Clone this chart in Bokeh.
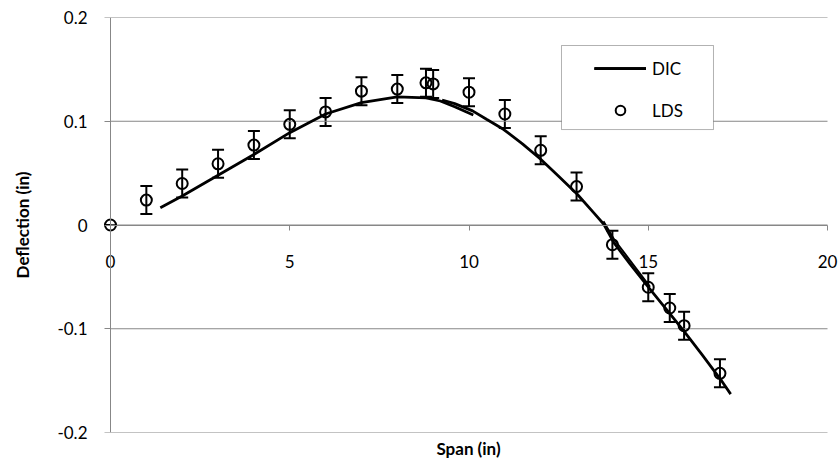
from bokeh.plotting import figure
from bokeh.models import (ColumnDataSource, Whisker, TeeHead, FixedTicker, Legend,
                          LegendItem, BoxAnnotation, Title, Range1d, LinearAxis)
from bokeh.embed import file_html
from bokeh.resources import INLINE

# ---- data ----
lds_x = [0, 1.0, 2.0, 3.0, 4.0, 5.0, 6.0, 7.0, 8.0, 8.8, 9.0, 10.0, 11.0, 12.0, 13.0,
         14.0, 15.0, 15.6, 16.0, 17.0]
lds_y = [0, 0.024, 0.040, 0.059, 0.077, 0.097, 0.109, 0.129, 0.131, 0.137, 0.136, 0.128,
         0.107, 0.072, 0.037, -0.019, -0.060, -0.080, -0.097, -0.143]
lds_err = [0, 0.0135, 0.0135, 0.0135, 0.0135, 0.0135, 0.0135, 0.0135, 0.0135, 0.0135,
           0.0135, 0.0135, 0.0135, 0.0135, 0.0135, 0.0135, 0.0135, 0.0135, 0.0135, 0.0135]

dic1_x = [1.39, 2.0, 3.0, 4.0, 5.0, 6.0, 7.0, 8.0, 8.8, 9.2, 9.6, 10.12]
dic1_y = [0.0167, 0.028, 0.048, 0.068, 0.089, 0.107, 0.118, 0.1234, 0.1225, 0.1195, 0.114, 0.106]

dic2_x = [9.25, 9.6, 10.1, 10.5, 10.97, 11.5, 12.0, 12.5, 13.02, 13.5, 13.76, 14.04, 14.5,
          15.02, 15.5, 15.99, 16.5, 17.02, 17.3]
dic2_y = [0.1205, 0.117, 0.110, 0.1017, 0.092, 0.078, 0.0634, 0.047, 0.0296, 0.011, 0.0007,
          -0.017, -0.038, -0.0605, -0.081, -0.102, -0.125, -0.149, -0.163]

dic3_x = [13.75, 14.04, 14.5, 15.05]
dic3_y = [0.0035, -0.0135, -0.0345, -0.0595]

x_ticks = [0, 5, 10, 15, 20]
x_tick_labels = ["0", "5", "10", "15", "20"]
y_ticks = [-0.2, -0.1, 0, 0.1, 0.2]
y_tick_labels = ["-0.2", "-0.1", "0", "0.1", "0.2"]

FONT = "Lato"
GRID = "#878787"

# axis extents of the plotting area
X_MIN, X_MAX = 0, 20
Y_MIN, Y_MAX = -0.2, 0.2
# the frame is a bit wider than the axis extents so that end labels/markers are not clipped
PX_PER_X = 717 / (X_MAX - X_MIN)
x_lo = X_MIN - 14 / PX_PER_X
x_hi = X_MAX + 13 / PX_PER_X

p = figure(width=840, height=466, output_backend="svg", toolbar_location=None,
           x_range=Range1d(x_lo, x_hi), y_range=Range1d(Y_MIN, Y_MAX),
           min_border_left=96, min_border_right=0, min_border_top=17, min_border_bottom=34)
p.outline_line_color = None
p.background_fill_color = "white"
p.border_fill_color = "white"

# grids (horizontal, spanning the axis extent only)
p.xgrid.visible = False
p.ygrid.visible = False
p.segment(x0=[X_MIN] * len(y_ticks), x1=[X_MAX] * len(y_ticks), y0=y_ticks, y1=y_ticks,
          line_color=GRID, line_width=1)

# x axis crossing at y = 0
xa = p.xaxis[0]
xa.fixed_location = 0
xa.bounds = (X_MIN, X_MAX)
xa.ticker = FixedTicker(ticks=x_ticks)
xa.major_label_overrides = {t: l for t, l in zip(x_ticks, x_tick_labels)}
xa.axis_line_color = GRID
xa.major_tick_line_color = GRID
xa.major_tick_out = 5
xa.major_tick_in = 0
xa.minor_tick_line_color = None
xa.major_label_standoff = 25
xa.major_label_text_font = FONT
xa.major_label_text_font_size = "17px"
xa.major_label_text_color = "black"

# left axis: labels and title only
ya = p.yaxis[0]
ya.ticker = FixedTicker(ticks=y_ticks)
ya.major_label_overrides = {t: l for t, l in zip(y_ticks, y_tick_labels)}
ya.axis_line_color = None
ya.major_tick_line_color = None
ya.major_tick_out = 0
ya.major_tick_in = 0
ya.minor_tick_line_color = None
ya.major_label_standoff = 9
ya.major_label_text_font = FONT
ya.major_label_text_font_size = "17px"
ya.major_label_text_color = "black"
ya.axis_label = "Deflection (in)"
ya.axis_label_text_font = FONT
ya.axis_label_text_font_size = "17px"
ya.axis_label_text_font_style = "bold"
ya.axis_label_text_color = "black"
ya.axis_label_standoff = 21

# y axis line and ticks at x = 0
ya0 = LinearAxis(fixed_location=0, bounds=(Y_MIN, Y_MAX), ticker=FixedTicker(ticks=y_ticks),
                 axis_line_color=GRID, major_tick_line_color=GRID, major_tick_out=6,
                 major_tick_in=0, minor_tick_line_color=None, major_label_text_alpha=0)
p.add_layout(ya0, "left")

p.add_layout(Title(text="Span (in)", align="center", text_font=FONT, text_font_size="17px",
                   text_font_style="bold", text_color="black", standoff=6), "below")

# DIC lines
r1 = p.line(dic1_x, dic1_y, line_color="black", line_width=2.75)
r2 = p.line(dic2_x, dic2_y, line_color="black", line_width=2.75)
r3 = p.line(dic3_x, dic3_y, line_color="black", line_width=2.0)

# LDS points with error bars
src = ColumnDataSource(dict(
    x=lds_x, y=lds_y,
    upper=[y + e for y, e in zip(lds_y, lds_err)],
    lower=[y - e for y, e in zip(lds_y, lds_err)],
))
rc = p.scatter("x", "y", source=src, marker="circle", size=11, line_color="black",
               line_width=2, fill_alpha=0)
wh = Whisker(source=src, base="x", upper="upper", lower="lower", dimension="height",
             line_color="black", line_width=2,
             upper_head=TeeHead(size=12, line_color="black", line_width=2),
             lower_head=TeeHead(size=12, line_color="black", line_width=2))
p.add_layout(wh)

# legend box
box = BoxAnnotation(left=12.58, right=16.82, top=0.173, bottom=0.092,
                    fill_color="white", fill_alpha=1, line_color="black", line_width=1)
p.add_layout(box)

legend = Legend(items=[LegendItem(label="DIC", renderers=[r1, r2, r3]),
                       LegendItem(label="LDS", renderers=[rc])],
                location=(498, 310), padding=9, spacing=18, glyph_width=52, glyph_height=24,
                label_standoff=6, label_text_font=FONT, label_text_font_size="17px",
                label_text_color="black", border_line_color=None, background_fill_alpha=0)
p.add_layout(legend)

open("out.html", "w").write(file_html(p, INLINE))
